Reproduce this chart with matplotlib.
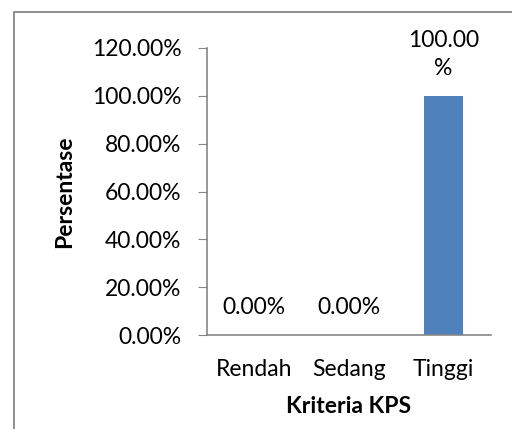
import matplotlib
matplotlib.use("Agg")
import matplotlib.pyplot as plt
from matplotlib.patches import Rectangle
from matplotlib.ticker import FuncFormatter

categories = ["Rendah", "Sedang", "Tinggi"]
values = [0.0, 0.0, 100.0]
labels = ["0.00%", "0.00%", "100.00\n%"]
yticks = [0, 20, 40, 60, 80, 100, 120]

plt.rcParams['font.family'] = ['Lato', 'DejaVu Sans']
fs = 16.5

fig = plt.figure(figsize=(5.12, 4.29), dpi=100)
fig.patches.append(Rectangle((14 / 512, -0.1), 1.2, 1 - 12 / 429 + 0.1,
                             transform=fig.transFigure, fill=False,
                             edgecolor="#878787", linewidth=1.3))

ax = fig.add_axes([207 / 512, 1 - 335 / 429, 284 / 512, 287 / 429])
x = range(len(categories))
ax.bar(x, values, width=0.41, color="#4f81bd")

for i, (v, lab) in enumerate(zip(values, labels)):
    ax.annotate(lab, (i, v), xytext=(0, 12), textcoords="offset points",
                ha="center", va="bottom", fontsize=fs, linespacing=1.4)

ax.set_xlim(-0.5, 2.5)
ax.set_ylim(0, 120)
ax.set_yticks(yticks)
ax.yaxis.set_major_formatter(FuncFormatter(lambda v, p: "{:.2f}%".format(v)))
ax.set_xticks(list(x))
ax.set_xticklabels(categories)
ax.tick_params(axis="y", length=6.5, color="#868686", labelsize=fs, pad=12)
ax.tick_params(axis="x", length=0, labelsize=fs, pad=17)

for s in ["top", "right"]:
    ax.spines[s].set_visible(False)
for s in ["left", "bottom"]:
    ax.spines[s].set_color("#868686")
    ax.spines[s].set_linewidth(1.2)

ax.set_ylabel("Persentase", fontsize=fs, fontweight="bold", labelpad=12)
ax.set_xlabel("Kriteria KPS", fontsize=fs, fontweight="bold", labelpad=12)

fig.savefig("out.png", dpi=100)
